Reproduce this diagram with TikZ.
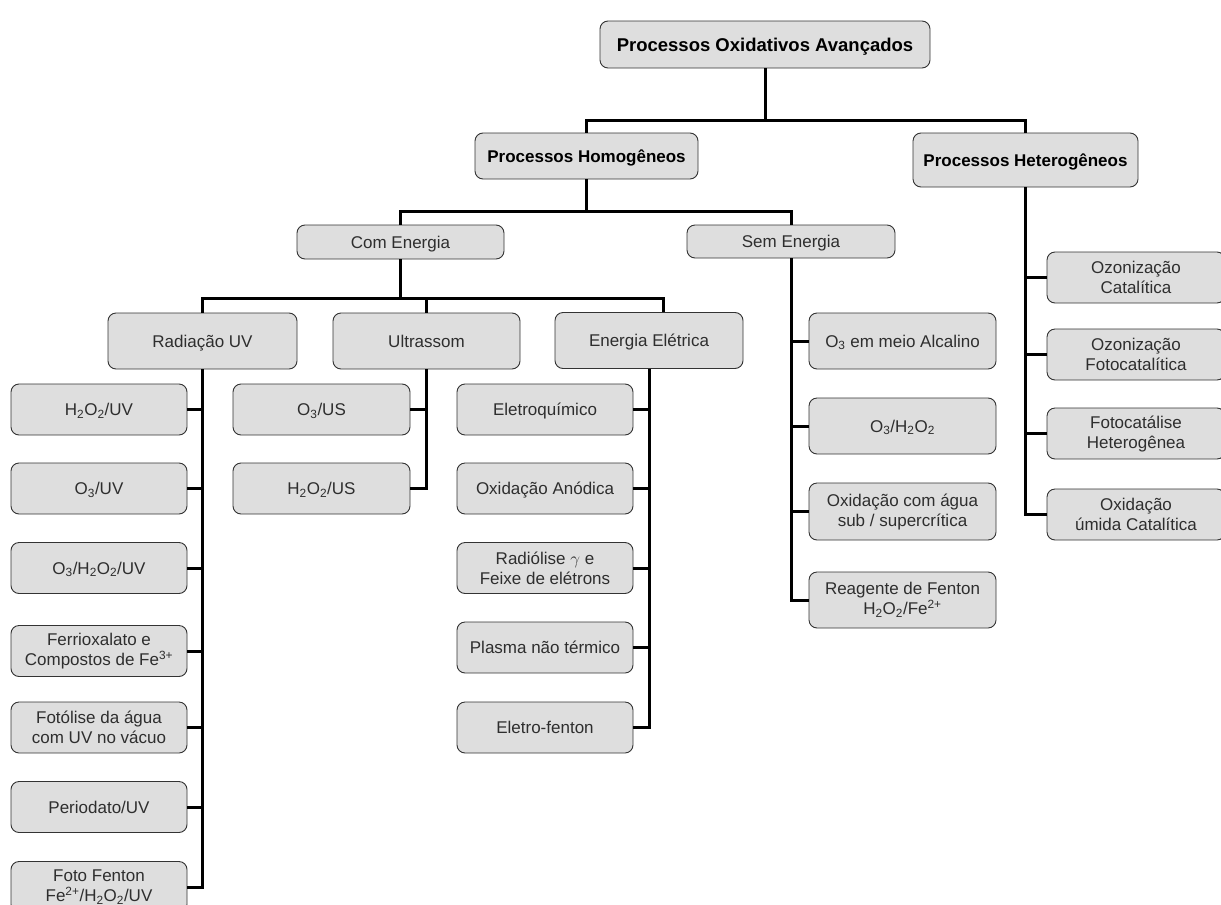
\documentclass[tikz,border=0pt]{standalone}
\usepackage{fontspec}
\setmainfont{Liberation Sans}
\definecolor{boxgray}{HTML}{DEDEDE}
\definecolor{txtgray}{HTML}{2E2E2E}
\begin{document}
\begin{tikzpicture}[x=1pt,y=-1pt,
  box/.style={draw=black!80, line width=0.9pt, fill=boxgray, rounded corners=8pt,
    inner sep=0pt, align=center, font=\fontsize{17}{20}\selectfont, text=txtgray},
  one/.style={text height=13pt, text depth=0.8pt},
  bbox/.style={box, one, font=\bfseries\fontsize{17}{20}\selectfont, text=black},
  lvl3/.style={box, one, minimum width=188pt, minimum height=56pt},
  leaf/.style={box, minimum height=51pt},
  link/.style={line width=3pt, black, line join=miter},
]
\useasboundingbox (0,0) rectangle (1221,905);

% level 1 and 2
\node[bbox, minimum width=330pt, minimum height=47pt, font=\bfseries\fontsize{18.5}{22}\selectfont, text height=14pt, text depth=0.8pt] (top) at (765,44.5) {Processos Oxidativos Avançados};
\node[bbox, minimum width=223pt, minimum height=46pt] (hom) at (586.5,156) {Processos Homogêneos};
\node[bbox, minimum width=225pt, minimum height=54pt] (het) at (1025.5,160) {Processos Heterogêneos};

% level 3
\node[box, one, minimum width=207pt, minimum height=34pt] (com) at (400.5,242) {Com Energia};
\node[box, one, minimum width=208pt, minimum height=33pt] (sem) at (791,241.5) {Sem Energia};

% level 4
\node[lvl3, minimum width=189pt] (rad) at (202.5,341) {Radiação UV};
\node[lvl3, minimum width=187pt] (ult) at (426.5,341) {Ultrassom};
\node[lvl3] (ene) at (649,340.5) {Energia Elétrica};

% Radiacao UV children
\node[leaf, one, minimum width=176pt] (r1) at (99,409.5) {H\textsubscript{2}O\textsubscript{2}/UV};
\node[leaf, one, minimum width=176pt] (r2) at (99,488.5) {O\textsubscript{3}/UV};
\node[leaf, one, minimum width=176pt] (r3) at (99,568) {O\textsubscript{3}/H\textsubscript{2}O\textsubscript{2}/UV};
\node[leaf, minimum width=176pt] (r4) at (99,651) {Ferrioxalato e\\Compostos de Fe\textsuperscript{3+}};
\node[leaf, minimum width=176pt] (r5) at (99,727.5) {Fotólise da água\\com UV no vácuo};
\node[leaf, one, minimum width=176pt] (r6) at (99,807) {Periodato/UV};
\node[leaf, minimum width=176pt] (r7) at (99,887) {Foto Fenton\\Fe\textsuperscript{2+}/H\textsubscript{2}O\textsubscript{2}/UV};

% Ultrassom children
\node[leaf, one, minimum width=177pt] (u1) at (321.5,409.5) {O\textsubscript{3}/US};
\node[leaf, one, minimum width=177pt] (u2) at (321.5,488.5) {H\textsubscript{2}O\textsubscript{2}/US};

% Energia Eletrica children
\node[leaf, one, minimum width=176pt] (e1) at (545,409.5) {Eletroquímico};
\node[leaf, one, minimum width=176pt] (e2) at (545,488.5) {Oxidação Anódica};
\node[leaf, minimum width=176pt] (e3) at (545,568) {Radiólise $\gamma$ e\\Feixe de elétrons};
\node[leaf, one, minimum width=176pt] (e4) at (545,647.5) {Plasma não térmico};
\node[leaf, one, minimum width=176pt] (e5) at (545,727.5) {Eletro-fenton};

% Sem Energia children
\node[box, one, minimum width=187pt, minimum height=56pt] (s1) at (902.5,341) {O\textsubscript{3} em meio Alcalino};
\node[box, one, minimum width=187pt, minimum height=56pt] (s2) at (902.5,426) {O\textsubscript{3}/H\textsubscript{2}O\textsubscript{2}};
\node[box, minimum width=187pt, minimum height=57pt] (s3) at (902.5,511.5) {Oxidação com água\\sub / supercrítica};
\node[box, minimum width=187pt, minimum height=56pt] (s4) at (902.5,600) {Reagente de Fenton\\H\textsubscript{2}O\textsubscript{2}/Fe\textsuperscript{2+}};

% Heterogeneos children
\node[leaf, minimum width=178pt] (h1) at (1136,277.5) {Ozonização\\Catalítica};
\node[leaf, minimum width=178pt] (h2) at (1136,354.5) {Ozonização\\Fotocatalítica};
\node[leaf, minimum width=178pt] (h3) at (1136,433.5) {Fotocatálise\\Heterogênea};
\node[leaf, minimum width=178pt] (h4) at (1136,514.5) {Oxidação\\úmida Catalítica};

% bus coordinates
\coordinate (b1) at (0,120);
\coordinate (b2) at (0,211);
\coordinate (b3) at (0,298);

% connectors
\draw[link] (top.south) -- (top.south |- b1);
\draw[link] (hom.north) -- (hom.north |- b1) -| (het.north);
\draw[link] (hom.south) -- (hom.south |- b2);
\draw[link] (com.north) -- (com.north |- b2) -| (sem.north);
\draw[link] (com.south) -- (com.south |- b3);
\draw[link] (rad.north) -- (rad.north |- b3) -| ([xshift=14pt]ene.north);
\draw[link] (ult.north) -- (ult.north |- b3);

\draw[link] (rad.south) -- (rad.south |- r7.east) -- (r7.east);
\foreach \n in {r1,r2,r3,r4,r5,r6} \draw[link] (\n.east) -- (\n.east -| rad.south);
\draw[link] (ult.south) -- (ult.south |- u2.east) -- (u2.east);
\draw[link] (u1.east) -- (u1.east -| ult.south);
\draw[link] (ene.south) -- (ene.south |- e5.east) -- (e5.east);
\foreach \n in {e1,e2,e3,e4} \draw[link] (\n.east) -- (\n.east -| ene.south);
\draw[link] (sem.south) -- (sem.south |- s4.west) -- (s4.west);
\foreach \n in {s1,s2,s3} \draw[link] (\n.west) -- (\n.west -| sem.south);
\draw[link] (het.south) -- (het.south |- h4.west) -- (h4.west);
\foreach \n in {h1,h2,h3} \draw[link] (\n.west) -- (\n.west -| het.south);
\end{tikzpicture}
\end{document}
